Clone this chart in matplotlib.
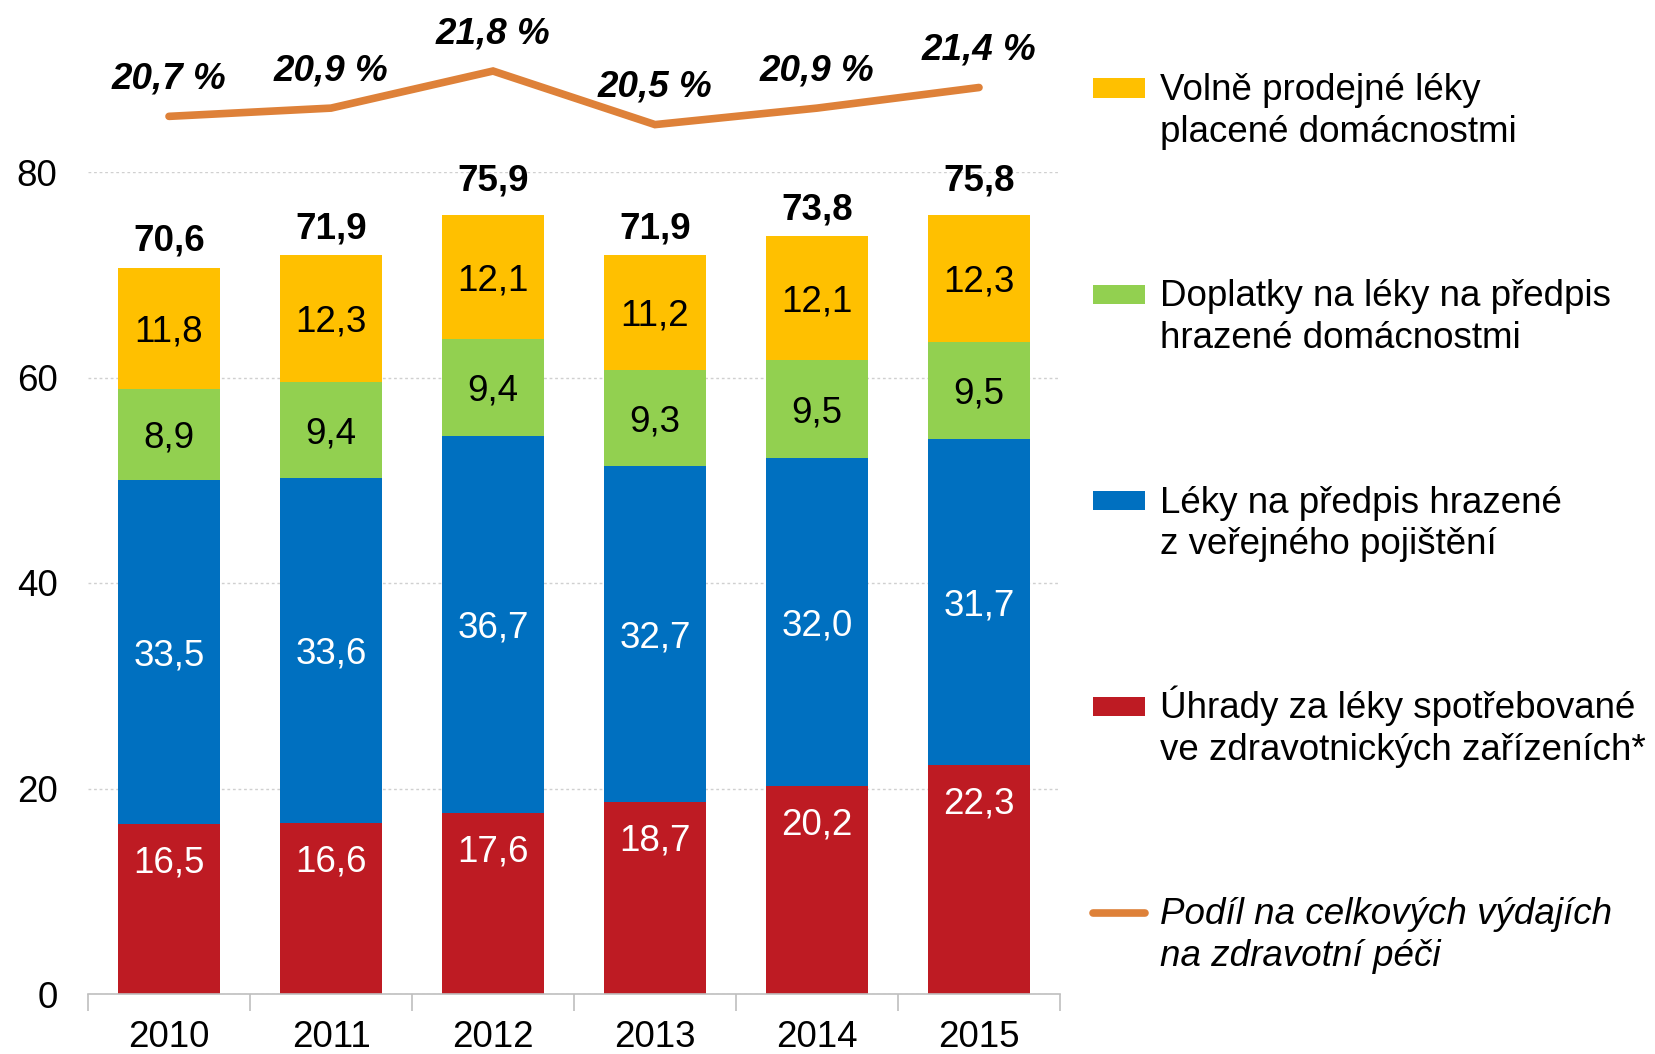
import matplotlib
matplotlib.use("Agg")
import matplotlib.pyplot as plt
from matplotlib.patches import Rectangle
from matplotlib.lines import Line2D
import numpy as np

plt.rcParams['font.family'] = ['Liberation Sans', 'DejaVu Sans']

years = ['2010', '2011', '2012', '2013', '2014', '2015']
uhrady = [16.5, 16.6, 17.6, 18.7, 20.2, 22.3]
predpis_pojisteni = [33.5, 33.6, 36.7, 32.7, 32.0, 31.7]
doplatky = [8.9, 9.4, 9.4, 9.3, 9.5, 9.5]
volne = [11.8, 12.3, 12.1, 11.2, 12.1, 12.3]
totals = [70.6, 71.9, 75.9, 71.9, 73.8, 75.8]
podil = [20.7, 20.9, 21.8, 20.5, 20.9, 21.4]

labels = ['Volně prodejné léky\nplacené domácnostmi',
          'Doplatky na léky na předpis\nhrazené domácnostmi',
          'Léky na předpis hrazené\nz veřejného pojištění',
          'Úhrady za léky spotřebované\nve zdravotnických zařízeních*',
          'Podíl na celkových výdajích\nna zdravotní péči']

C_YEL = '#FFC000'
C_GRN = '#92D050'
C_BLU = '#0070C0'
C_RED = '#BE1B23'
C_ORA = '#DE8139'

W, H = 1656, 1054
fig = plt.figure(figsize=(W / 100, H / 100), dpi=100)

def fx(px):
    return px / W

def fy(py):
    return 1 - py / H

ax_left, ax_right = 88, 1060
y0, y80 = 994, 172
ax = fig.add_axes([fx(ax_left), fy(y0), fx(ax_right - ax_left), (y0 - y80) / H])

fs = 26.5
x = np.arange(len(years))
bw = 0.625
# (values, colour, text colour, label placement)
series = [(uhrady, C_RED, 'white', 'inside_end'), (predpis_pojisteni, C_BLU, 'white', 'center'),
          (doplatky, C_GRN, 'black', 'center'), (volne, C_YEL, 'black', 'center')]
bottom = np.zeros(len(years))
for vals, col, tcol, place in series:
    vals = np.array(vals)
    ax.bar(x, vals, bw, bottom=bottom, color=col, zorder=3, linewidth=0)
    for xi, b, v in zip(x, bottom, vals):
        txt = f"{v:.1f}".replace('.', ',')
        if place == 'center':
            ax.annotate(txt, (xi, b + v / 2), xytext=(0, -0.358 * fs),
                        textcoords='offset points', ha='center', va='baseline',
                        fontsize=fs, color=tcol, zorder=4)
        else:
            ax.annotate(txt, (xi, b + v), xytext=(0, -25.2 - 0.358 * fs),
                        textcoords='offset points', ha='center', va='baseline',
                        fontsize=fs, color=tcol, zorder=4)
    bottom = bottom + vals

for xi, top, t in zip(x, bottom, totals):
    off = 12 + (6 if top > 75 else 0)
    ax.annotate(f"{t:.1f}".replace('.', ','), (xi, top), xytext=(0, off),
                textcoords='offset points', ha='center', va='baseline',
                fontsize=fs, fontweight='bold', color='black')

ax.set_xlim(-0.5, len(years) - 0.5)
ax.set_ylim(0, 80)
ax.set_yticks([0, 20, 40, 60, 80])
ax.set_yticklabels(['0', '20', '40', '60', '80'])
ax.set_xticks(x)
ax.set_xticklabels(years)
ax.set_xticks(np.arange(-0.5, len(years), 1.0), minor=True)
ax.tick_params(axis='x', which='major', length=0, pad=19, labelsize=fs)
ax.tick_params(axis='x', which='minor', length=12, width=1.2, color='#BFBFBF', direction='out')
ax.tick_params(axis='y', length=0, pad=22, labelsize=fs)
ax.yaxis.grid(True, color='#D0D0D0', linestyle=(0, (2, 2)), linewidth=1, zorder=0)
ax.set_axisbelow(True)
for s in ['top', 'right', 'left']:
    ax.spines[s].set_visible(False)
ax.spines['bottom'].set_color('#BFBFBF')
ax.spines['bottom'].set_linewidth(1.2)
ax.spines['bottom'].set_zorder(5)

# line axes
ly_top, ly_bot = 40, 150
lax = fig.add_axes([fx(ax_left), fy(ly_bot), fx(ax_right - ax_left), (ly_bot - ly_top) / H])
lax.set_xlim(-0.5, len(years) - 0.5)
lax.set_ylim(19.8835, 22.553)
lax.plot(x, podil, color=C_ORA, linewidth=5.5, solid_capstyle='round', solid_joinstyle='miter', clip_on=False)
for xi, v in zip(x, podil):
    lax.annotate(f"{v:.1f} %".replace('.', ','), (xi, v), xytext=(0, 20),
                 textcoords='offset points', ha='center', va='baseline',
                 fontsize=fs, fontweight='bold', fontstyle='italic', color='black',
                 annotation_clip=False)
lax.axis('off')

# legend (manual)
centers = [88, 294.5, 500.5, 706.5, 912.5]
colors = [C_YEL, C_GRN, C_BLU, C_RED]
for i, (cy, lab) in enumerate(zip(centers, labels)):
    if i < 4:
        fig.add_artist(Rectangle((fx(1093), fy(cy + 9.5)), fx(52), 19 / H,
                                 transform=fig.transFigure, color=colors[i], linewidth=0))
        style = 'normal'
    else:
        fig.add_artist(Line2D([fx(1093), fx(1145)], [fy(cy), fy(cy)], transform=fig.transFigure,
                              color=C_ORA, linewidth=5.5, solid_capstyle='round'))
        style = 'italic'
    l1, l2 = lab.split('\n')
    fig.text(fx(1160), fy(cy + 12), l1, fontsize=fs, fontstyle=style, va='baseline', ha='left')
    fig.text(fx(1160), fy(cy + 12 + 41.7), l2, fontsize=fs, fontstyle=style, va='baseline', ha='left')

fig.savefig('out.png', dpi=100)
